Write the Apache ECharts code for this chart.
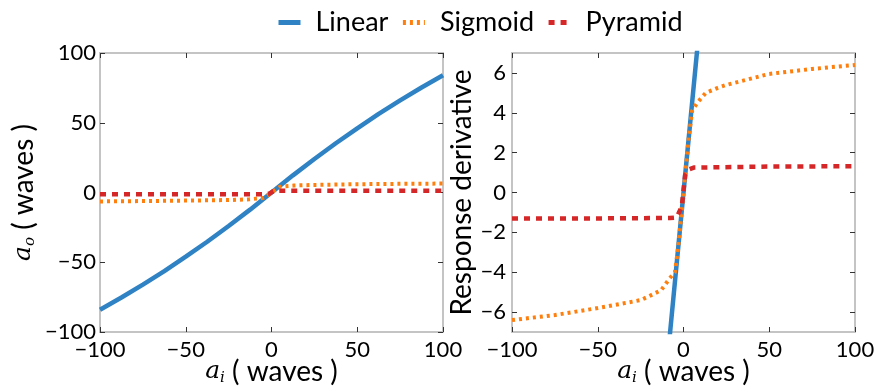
<!DOCTYPE html>
<html>
<head>
<meta charset="utf-8">
<script src="https://cdn.jsdelivr.net/npm/echarts@6/dist/echarts.min.js"></script>
<style>
  html, body { margin: 0; padding: 0; background: #fff; }
  #chart { width: 877px; height: 392px; }
</style>
</head>
<body>
<div id="chart"></div>
<script>
// Response curves: output amplitude (left) and its derivative (right)
const seriesNames = ['Linear', 'Sigmoid', 'Pyramid'];

// Left panel: output amplitude a_o versus input a_i
const linearX = [-100, -87.5, -75, -62.5, -50, -37.5, -25, -12.5, 0, 12.5, 25, 37.5, 50, 62.5, 75, 87.5, 100];
const linearY = [-84, -75.3, -66, -56.3, -46, -35.3, -24, -12.3, 0, 12.3, 24, 35.3, 46, 56.3, 66, 75.3, 84];

const sigmoidX = [-100, -75, -50, -25, -20, -13, -8, -5, -3, -1, 0, 1, 3, 5, 8, 13, 20, 25, 50, 75, 100];
const sigmoidY = [-6.4, -6.15, -5.8, -5.4, -5.2, -4.9, -4.3, -4.0, -2.7, -0.9, 0, 0.9, 2.7, 4.1, 4.5, 5.0, 5.25, 5.4, 5.95, 6.2, 6.4];

const pyramidX = [-100, -50, -8, -4, -1, 0, 1, 3, 6, 50, 100];
const pyramidY = [-1.3, -1.3, -1.28, -1.25, -0.7, 0.1, 0.9, 1.15, 1.25, 1.3, 1.32];

// Right panel: response derivative
const linearDerivX = [-10, -7.8, 0, 7.8, 10];
const linearDerivY = [-9, -7, 0, 7, 9];

const sigmoidDerivX = sigmoidX;
const sigmoidDerivY = sigmoidY;
const pyramidDerivX = pyramidX;
const pyramidDerivY = pyramidY;

// Tick values
const rightYTicks = [-6, -4, -2, 0, 2, 4, 6];

const colors = { Linear: '#2f82c3', Sigmoid: '#ff7f0e', Pyramid: '#d62728' };
const FONT = 'Lato';

function pairs(xs, ys) { return xs.map((x, i) => [x, ys[i]]); }
function fmt(v) { return v < 0 ? '\u2212' + Math.abs(v) : String(v); }

const tickStyle = { show: true, inside: true, length: 5, lineStyle: { color: '#333', width: 1 } };
const labelStyle = { fontFamily: FONT, fontSize: 22, color: '#000' };
const hiddenLine = { show: false, onZero: false };

const nameRich = {
  m: { fontFamily: 'DejaVu Serif', fontStyle: 'italic', fontSize: 25, color: '#000' },
  s: { fontFamily: 'DejaVu Serif', fontStyle: 'italic', fontSize: 15, color: '#000', padding: [14, 0, 0, 0] },
  t: { fontFamily: FONT, fontSize: 28, color: '#000' }
};

function mainX(grid, name) {
  return {
    type: 'value', gridIndex: grid, min: -100, max: 100, interval: 50,
    position: 'bottom',
    axisLine: hiddenLine, splitLine: { show: false },
    axisTick: tickStyle,
    axisLabel: Object.assign({ margin: 7, formatter: fmt }, labelStyle),
    name: name, nameLocation: 'middle', nameGap: 25, nameMoveOverlap: false,
    nameTextStyle: { rich: nameRich }
  };
}
function topX(grid) {
  return {
    type: 'value', gridIndex: grid, min: -100, max: 100, interval: 50,
    position: 'top', axisLine: hiddenLine, splitLine: { show: false },
    axisTick: tickStyle, axisLabel: { show: false }
  };
}

const grids = [
  { left: 100, top: 53, width: 343, height: 279, show: true, borderColor: '#c4c4c4', borderWidth: 2, outerBoundsMode: 'none', containLabel: false },
  { left: 512, top: 53, width: 343, height: 279, show: true, borderColor: '#c4c4c4', borderWidth: 2, outerBoundsMode: 'none', containLabel: false }
];

const xAxes = [
  mainX(0, '{m|a}{s|i}{t| ( waves )}'),
  mainX(1, '{m|a}{s|i}{t| ( waves )}'),
  topX(0), topX(1)
];

const yAxes = [
  {
    type: 'value', gridIndex: 0, min: -100, max: 100, interval: 50, position: 'left',
    axisLine: hiddenLine, splitLine: { show: false }, axisTick: tickStyle,
    axisLabel: Object.assign({ margin: 4, formatter: fmt }, labelStyle),
    name: '{m|a}{s|o}{t| ( waves )}', nameLocation: 'middle', nameGap: 62, nameRotate: 90,
    nameMoveOverlap: false,
    nameTextStyle: { rich: nameRich }
  },
  {
    type: 'value', gridIndex: 1, min: -7, max: 7, position: 'left',
    axisLine: hiddenLine, splitLine: { show: false },
    axisTick: Object.assign({ customValues: rightYTicks }, tickStyle),
    axisLabel: Object.assign({ margin: 6, formatter: fmt, customValues: rightYTicks }, labelStyle),
    name: 'Response derivative', nameLocation: 'middle', nameGap: 36, nameRotate: 90,
    nameMoveOverlap: false,
    nameTextStyle: { fontFamily: FONT, fontSize: 28, color: '#000' }
  },
  {
    type: 'value', gridIndex: 0, min: -100, max: 100, interval: 50, position: 'right',
    axisLine: hiddenLine, splitLine: { show: false }, axisTick: tickStyle, axisLabel: { show: false }
  },
  {
    type: 'value', gridIndex: 1, min: -7, max: 7, position: 'right',
    axisLine: hiddenLine, splitLine: { show: false },
    axisTick: Object.assign({ customValues: rightYTicks }, tickStyle), axisLabel: { show: false }
  }
];

const lineStyles = {
  Linear: { width: 4.5, type: 'solid' },
  Sigmoid: { width: 4, type: [3, 4] },
  Pyramid: { width: 4.5, type: [6, 6] }
};

function mk(name, xi, yi, data) {
  return {
    name: name, type: 'line', xAxisIndex: xi, yAxisIndex: yi, data: data,
    showSymbol: false, symbol: 'none', clip: true, animation: false,
    color: colors[name],
    lineStyle: Object.assign({ color: colors[name] }, lineStyles[name])
  };
}

const series = [
  mk('Linear', 0, 0, pairs(linearX, linearY)),
  mk('Sigmoid', 0, 0, pairs(sigmoidX, sigmoidY)),
  mk('Pyramid', 0, 0, pairs(pyramidX, pyramidY)),
  mk('Linear', 1, 1, pairs(linearDerivX, linearDerivY)),
  mk('Sigmoid', 1, 1, pairs(sigmoidDerivX, sigmoidDerivY)),
  mk('Pyramid', 1, 1, pairs(pyramidDerivX, pyramidDerivY))
];

const chart = echarts.init(document.getElementById('chart'), null, { renderer: 'canvas' });
chart.setOption({
  animation: false,
  backgroundColor: '#fff',
  legend: {
    data: seriesNames, top: 4, left: 271,
    itemWidth: 22, itemHeight: 14, itemGap: 12,
    itemStyle: { opacity: 0 },
    lineStyle: { width: 5 },
    textStyle: { fontFamily: FONT, fontSize: 27, color: '#000', padding: [0, 0, 0, 10] }
  },
  grid: grids,
  xAxis: xAxes,
  yAxis: yAxes,
  series: series
});
</script>
</body>
</html>
